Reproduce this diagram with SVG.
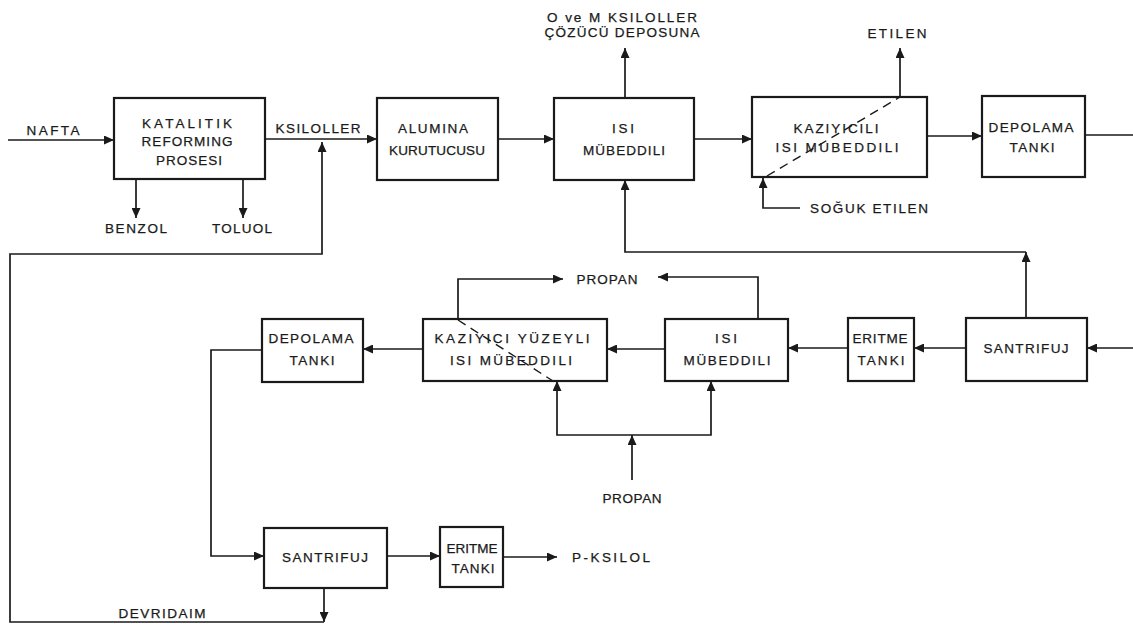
<svg xmlns="http://www.w3.org/2000/svg" width="1133" height="630" viewBox="0 0 1133 630">
<style>
.box{fill:#fff;stroke:#1a1a1a;stroke-width:2.2}
.ln{fill:none;stroke:#1a1a1a;stroke-width:1.7}
.ar{marker-end:url(#ah)}
.dash{fill:none;stroke:#1a1a1a;stroke-width:1.4;stroke-dasharray:9 6}
text{font-family:"Liberation Sans",Arial,sans-serif;font-size:13.5px;fill:#1a1a1a;stroke:#1a1a1a;stroke-width:0.25;text-anchor:middle}
</style>
<defs>
<marker id="ah" markerUnits="userSpaceOnUse" markerWidth="10" markerHeight="9" refX="10" refY="4.5" orient="auto">
<path d="M0,0 L10,4.5 L0,9 z" fill="#1a1a1a"/>
</marker>
</defs>
<rect width="1133" height="630" fill="#fff"/>
<g id="connectors">
<path class="ln ar" d="M8,140 H114"/>
<path class="ln ar" d="M265,139 H377"/>
<path class="ln ar" d="M136,179 V218"/>
<path class="ln ar" d="M243,179 V218"/>
<path class="ln ar" d="M498,139 H554"/>
<path class="ln ar" d="M625,98 V48"/>
<path class="ln ar" d="M694,139 H752"/>
<path class="ln ar" d="M900,97 V48"/>
<path class="ln ar" d="M800,208 H763 V178"/>
<path class="ln ar" d="M927,136 H982"/>
<path class="ln" d="M1085,135 H1133"/>
<path class="ln ar" d="M1133,348 H1087"/>
<path class="ln ar" d="M966,348 H914"/>
<path class="ln ar" d="M848,348 H788"/>
<path class="ln ar" d="M665,349 H607"/>
<path class="ln ar" d="M423,349 H363"/>
<path class="ln ar" d="M758,319 V277 H658"/>
<path class="ln ar" d="M458,319 V279 H563"/>
<path class="ln ar" d="M632,480 V435"/>
<path class="ln ar" d="M632,435 H557 V381"/>
<path class="ln ar" d="M632,435 H711 V381"/>
<path class="ln ar" d="M1026,318 V252"/>
<path class="ln ar" d="M1026,252 H625 V180"/>
<path class="ln ar" d="M262,350 H211 V556 H264"/>
<path class="ln ar" d="M387,556 H440"/>
<path class="ln ar" d="M503,557 H557"/>
<path class="ln ar" d="M324,588 V622"/>
<path class="ln ar" d="M324,622 H10 V254 H322 V142"/>
</g>
<g id="labels">
<text x="53" y="135" textLength="53">NAFTA</text>
<text x="318" y="133" textLength="85">KSILOLLER</text>
<text x="136" y="233" textLength="62">BENZOL</text>
<text x="242" y="233" textLength="60">TOLUOL</text>
<text x="622" y="22" textLength="150">O ve M KSILOLLER</text>
<text x="622" y="37" textLength="155">ÇÖZÜCÜ DEPOSUNA</text>
<text x="897" y="38" textLength="59">ETILEN</text>
<text x="869" y="213" textLength="118">SOĞUK ETILEN</text>
<text x="607" y="284" textLength="61">PROPAN</text>
<text x="632" y="503" textLength="59">PROPAN</text>
<text x="611" y="562" textLength="78">P-KSILOL</text>
<text x="162" y="618" textLength="87">DEVRIDAIM</text>
</g>
<g id="katalitik">
<rect class="box" x="114" y="98" width="151" height="81"/>
<text x="187" y="128" textLength="90">KATALITIK</text>
<text x="187" y="146" textLength="91">REFORMING</text>
<text x="189" y="165" textLength="66">PROSESI</text>
</g>
<g id="alumina">
<rect class="box" x="377" y="98" width="121" height="82"/>
<text x="433" y="133" textLength="70">ALUMINA</text>
<text x="437" y="155" textLength="96">KURUTUCUSU</text>
</g>
<g id="isi1">
<rect class="box" x="554" y="98" width="140" height="82"/>
<text x="623" y="133" textLength="22">ISI</text>
<text x="624" y="155" textLength="82">MÜBEDDILI</text>
</g>
<g id="kaziyicili">
<rect class="box" x="752" y="97" width="175" height="80"/>
<path class="dash" d="M767,176 L900,97"/>
<text x="836" y="133" textLength="85">KAZIYICILI</text>
<text x="837" y="152" textLength="123">ISI MUBEDDILI</text>
</g>
<g id="depolama1">
<rect class="box" x="982" y="96" width="103" height="81"/>
<text x="1031" y="132" textLength="85">DEPOLAMA</text>
<text x="1032" y="152" textLength="45">TANKI</text>
</g>
<g id="depolama2">
<rect class="box" x="262" y="319" width="101" height="63"/>
<text x="311" y="343" textLength="85">DEPOLAMA</text>
<text x="312" y="365" textLength="45">TANKI</text>
</g>
<g id="kaziyici-yuzeyli">
<rect class="box" x="423" y="319" width="184" height="62"/>
<path class="dash" d="M458,320 L553,381"/>
<text x="512" y="343" textLength="155">KAZIYICI YÜZEYLI</text>
<text x="511" y="365" textLength="122">ISI MÜBEDDILI</text>
</g>
<g id="isi2">
<rect class="box" x="665" y="319" width="123" height="62"/>
<text x="726" y="343" textLength="22">ISI</text>
<text x="727" y="365" textLength="87">MÜBEDDILI</text>
</g>
<g id="eritme1">
<rect class="box" x="848" y="318" width="66" height="63"/>
<text x="880" y="343" textLength="55">ERITME</text>
<text x="881" y="365" textLength="47">TANKI</text>
</g>
<g id="santrifuj1">
<rect class="box" x="966" y="318" width="121" height="63"/>
<text x="1026" y="353" textLength="85">SANTRIFUJ</text>
</g>
<g id="santrifuj2">
<rect class="box" x="264" y="528" width="123" height="60"/>
<text x="325" y="562" textLength="86">SANTRIFUJ</text>
</g>
<g id="eritme2">
<rect class="box" x="440" y="527" width="63" height="60"/>
<text x="472" y="553" textLength="51">ERITME</text>
<text x="473" y="573" textLength="43">TANKI</text>
</g>
</svg>
